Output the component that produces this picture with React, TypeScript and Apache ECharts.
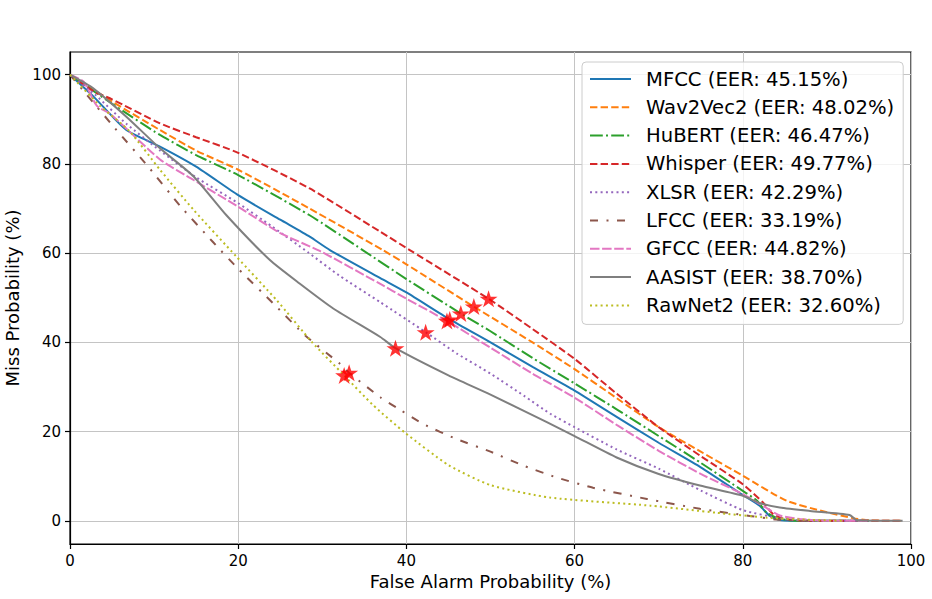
import React, { useEffect, useRef } from "react";
import * as echarts from "echarts";

// ---------- data ----------
const seriesNames = ["MFCC", "Wav2Vec2", "HuBERT", "Whisper", "XLSR", "LFCC", "GFCC", "AASIST", "RawNet2"];
const eerValues = [45.15, 48.02, 46.47, 49.77, 42.29, 33.19, 44.82, 38.7, 32.6];

const mfcc = [[0,100],[2.8,95.1],[6.7,87.6],[10.7,83.9],[15,79.4],[20,73],[25,67.5],[28.5,63.7],[30.9,60.7],[36.9,54.4],[40,51.2],[45.15,45.15],[50,40],[55,34.5],[60,29.2],[65,23.3],[70,17.5],[75,12],[80,5.8],[82,3.4],[83.2,1.1],[84.4,0.2],[88,0],[95,0]];
const wav2vec2 = [[0,100],[5,94],[10.7,87.6],[15,83],[20,78.7],[28.5,70],[37.2,60.7],[40,57.5],[48.02,48.02],[55,40],[60,34],[65,27.5],[70,21],[75,15.5],[80,10.1],[85.2,4.5],[90,1.9],[93.1,0.6],[95,0.1],[99,0]];
const hubert = [[0,100],[5,93.5],[10.7,86.5],[15,82],[20,77.5],[28.5,68.5],[34.8,60.7],[40,54.2],[46.47,46.47],[50,42.5],[55,36.5],[60,30.8],[65,25],[70,19],[75,13],[80,6.7],[81.7,4.5],[82.8,1.9],[84.4,0.4],[87,0],[95,0]];
const whisper = [[0,100],[2.8,96.3],[5,94.5],[10.7,89.1],[15,86],[20,82.5],[28.5,74.5],[36.9,64.8],[40.4,60.7],[49.77,49.77],[55,43],[60,36.3],[65,28.5],[70,21],[75,14.5],[80,8.2],[82.4,4.1],[83.6,1.5],[85,0.4],[88,0],[99,0]];
const xlsr = [[0,100],[3,95.5],[6.7,89],[10.7,83],[15,77],[20,71.2],[24,66],[28.3,60.2],[32,55],[36.9,49],[42.29,42.29],[46,37.5],[50,33],[54,28],[57.1,24],[60,21],[65,16],[70,11.7],[75,6.8],[80,2.4],[84.4,0.6],[88,0],[95,0]];
const lfcc = [[0,100],[2,95.5],[5.35,88],[9.3,79.4],[13.1,70.6],[17,62.5],[20,56.5],[24.4,48.3],[28,41.5],[32.1,35.2],[33.19,33.19],[36.9,27.7],[39.4,24.7],[42,21.7],[46,18.3],[50,15.5],[54,12.3],[57.9,9.7],[62.2,7.4],[68.6,4.9],[74.9,2.7],[80.8,1.1],[84,0.3],[88,0]];
const gfcc = [[0,100],[1.6,98.5],[3.2,93],[4.8,91.2],[10.7,81],[14.7,76.4],[20,70.4],[25,64.5],[29.7,60.5],[36.9,53.1],[40,49.8],[44.82,44.82],[50,38.8],[55,33],[60,27.6],[65,21.5],[70,15.7],[75,10.5],[80,6],[82,3.8],[84.4,1.2],[86.8,0.4],[90,0],[95,0]];
const aasist = [[0,100],[2.8,96.9],[6.7,90.6],[10.7,83.5],[14.7,77.2],[18.6,68.5],[23.8,58.4],[27.3,53.2],[31.3,47.6],[36.9,41.2],[38.7,38.7],[45,32.6],[50,28.3],[56.7,22.1],[60,19],[65,14.2],[70,10.5],[74.9,7.9],[80,5.6],[82,4],[84.4,3],[88,2.2],[92.7,1.3],[93.6,0.1],[99,0]];
const rawnet2 = [[0,100],[3.6,93],[7.1,87.3],[10.7,78.7],[14.7,69.7],[19.8,59.2],[24.6,49.4],[28.8,40],[32.6,32.6],[36,26],[39.8,19.8],[45,12.5],[50,8],[57.1,5.2],[69,3.4],[76.9,1.8],[82.9,0.7],[88,0.2],[92,0]];

const curves = [mfcc, wav2vec2, hubert, whisper, xlsr, lfcc, gfcc, aasist, rawnet2];

const xTicks = [0, 20, 40, 60, 80, 100];
const yTicks = [0, 20, 40, 60, 80, 100];

// ---------- styles ----------
const colors = ["#1f77b4", "#ff7f0e", "#2ca02c", "#d62728", "#9467bd", "#8c564b", "#e377c2", "#7f7f7f", "#bcbd22"];
const dashes: any[] = [
  "solid",
  [7.4, 3.2],
  [12.8, 3.2, 2, 3.2],
  [7.4, 3.2],
  [2, 3.3],
  [8, 8.5, 2, 8.5],
  [9.5, 2.6],
  "solid",
  [2, 3.3],
];

const STAR = "path://M50,0 L61.2,34.5 L97.6,34.5 L68.2,55.9 L79.4,90.5 L50,69.1 L20.6,90.5 L31.8,55.9 L2.4,34.5 L38.8,34.5 Z";
const FONT = "DejaVu Sans";

export default function App() {
  const ref = useRef<HTMLDivElement>(null);
  useEffect(() => {
    if (!ref.current) return;
    const chart = echarts.init(ref.current, null, { renderer: "svg" });
    const labels = seriesNames.map((n, i) => `${n} (EER: ${eerValues[i].toFixed(2)}%)`);
    const lineSeries = curves.map((c, i) => ({
      name: labels[i],
      type: "line",
      data: c,
      symbol: "none",
      showSymbol: false,
      smooth: 0.2,
      clip: true,
      lineStyle: { color: colors[i], width: 2, type: dashes[i] },
      itemStyle: { color: colors[i] },
      z: 2,
    }));
    const stars = {
      name: "EER points",
      type: "scatter",
      data: eerValues.map((e) => [e, e]),
      symbol: STAR,
      symbolSize: [18, 17],
      itemStyle: { color: "#ff0000" },
      z: 5,
    };
    chart.setOption({
      animation: false,
      textStyle: { fontFamily: FONT },
      grid: {
        left: 70, top: 52, width: 841, height: 492,
        outerBoundsMode: "none",
        containLabel: false,
        show: true, borderColor: "#000", borderWidth: 1.2, backgroundColor: "transparent",
      },
      legend: {
        orient: "vertical",
        left: 582,
        top: 62,
        data: labels,
        itemWidth: 41,
        itemHeight: 14,
        itemGap: 6.3,
        padding: [6, 9, 8, 7],
        itemStyle: { opacity: 0, borderWidth: 0 },
        backgroundColor: "rgba(255,255,255,0.8)",
        borderColor: "#cccccc",
        borderWidth: 1,
        borderRadius: 4,
        textStyle: { fontSize: 19.6, color: "#000", fontFamily: FONT, lineHeight: 22, padding: [0, 0, 0, 10] },
        z: 10,
      },
      xAxis: {
        type: "value",
        min: 0,
        max: 100,
        interval: 20,
        name: "False Alarm Probability (%)",
        nameLocation: "middle",
        nameGap: 28,
        nameTextStyle: { fontSize: 18, color: "#000", fontFamily: FONT },
        axisLine: { show: true, onZero: false, lineStyle: { color: "#000", width: 1.2 } },
        axisTick: { show: true, inside: false, length: 5, lineStyle: { color: "#000", width: 1.2 } },
        axisLabel: { fontSize: 15, color: "#000", margin: 9, fontFamily: FONT, customValues: xTicks },
        splitLine: { show: true, lineStyle: { color: "#c4c4c4", width: 1 } },
      },
      yAxis: {
        type: "value",
        min: -5.2,
        max: 105.1,
        name: "Miss Probability (%)",
        nameLocation: "middle",
        nameGap: 47,
        nameTextStyle: { fontSize: 18, color: "#000", fontFamily: FONT },
        axisLine: { show: true, onZero: false, lineStyle: { color: "#000", width: 1.2 } },
        axisTick: { show: true, inside: false, length: 5, lineStyle: { color: "#000", width: 1.2 }, customValues: yTicks },
        axisLabel: { fontSize: 15, color: "#000", margin: 9, fontFamily: FONT, customValues: yTicks },
        splitLine: { show: true, lineStyle: { color: "#c4c4c4", width: 1 } },
      },
      series: [...lineSeries, stars],
    });
    return () => chart.dispose();
  }, []);
  return (
    <div
      ref={ref}
      style={{ position: "fixed", left: 0, top: 0, width: 932, height: 599, background: "#fff" }}
    />
  );
}
